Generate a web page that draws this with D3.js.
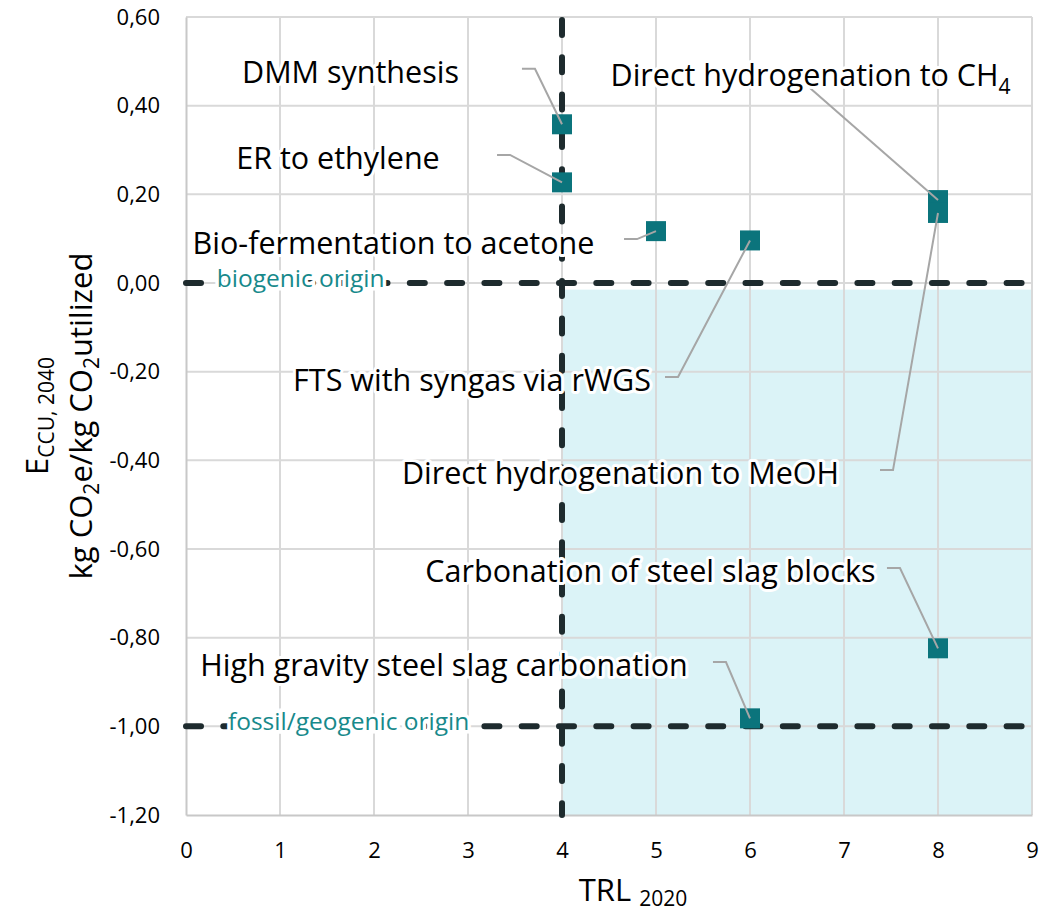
<!DOCTYPE html>
<html>
<head>
<meta charset="utf-8">
<script src="https://cdn.jsdelivr.net/npm/d3@7"></script>
<style>
  body { margin: 0; background: #fff; }
  svg text { font-family: "Open Sans", "Noto Sans", sans-serif; }
</style>
</head>
<body>
<div id="chart"></div>
<script>
// data: processes, TRL 2020, E_CCU 2040
const processes = [
    "DMM synthesis",
    "ER to ethylene",
    "Bio-fermentation to acetone",
    "Direct hydrogenation to CH4",
    "FTS with syngas via rWGS",
    "Direct hydrogenation to MeOH",
    "Carbonation of steel slag blocks",
    "High gravity steel slag carbonation"
];
const trl = [4, 4, 5, 8, 6, 8, 8, 6];
const eccu = [0.358, 0.227, 0.117, 0.187, 0.096, 0.158, -0.824, -0.982];

// annotation layout in data units: label centre, start of leader line
const labelX = [1.750, 1.617, 2.207, 6.644, 3.043, 4.622, 4.941, 2.745];
const labelY = [0.476, 0.282, 0.090, 0.469, -0.219, -0.429, -0.650, -0.862];
const leaderX = [3.574, 3.309, 4.660, 6.638, 5.096, 7.383, 7.457, 5.606];
const leaderY = [0.483, 0.289, 0.099, 0.440, -0.212, -0.422, -0.643, -0.855];

const xTicks = [0, 1, 2, 3, 4, 5, 6, 7, 8, 9];
const yTicks = [0.6, 0.4, 0.2, 0, -0.2, -0.4, -0.6, -0.8, -1.0, -1.2];
const refLinesY = [0, -1.0];
const refLineX = 4;
const originLabels = ["biogenic origin", "fossil/geogenic origin"];
const originLabelX = [1.22, 1.73];

const width = 1053, height = 916;
const margin = {top: 17, right: 21, bottom: 101, left: 186};

const svg = d3.select("#chart")
    .append("svg")
    .attr("width", width)
    .attr("height", height);

const x = d3.scaleLinear().domain([0, 9]).range([margin.left, width - margin.right]);
const y = d3.scaleLinear().domain([-1.2, 0.6]).range([height - margin.bottom, margin.top]);

// shaded region (TRL >= 4, negative emissions)
svg.append("rect")
    .attr("x", x(4))
    .attr("y", y(-0.015))
    .attr("width", x(9) - x(4))
    .attr("height", y(-1.2) - y(-0.015))
    .attr("fill", "#dbf3f7");

// grid
svg.append("g").selectAll("line")
    .data(xTicks.slice(1))
    .join("line")
    .attr("x1", d => x(d)).attr("x2", d => x(d))
    .attr("y1", y(0.6)).attr("y2", y(-1.2))
    .attr("stroke", "#d9d9d9").attr("stroke-width", 2);
svg.append("g").selectAll("line")
    .data(yTicks.slice(0, -1))
    .join("line")
    .attr("x1", x(0)).attr("x2", x(9))
    .attr("y1", d => y(d)).attr("y2", d => y(d))
    .attr("stroke", "#d9d9d9").attr("stroke-width", 2);

// axes
const fmt = d => d3.format(".2f")(d).replace(".", ",").replace("−", "-");
const yAxis = svg.append("g")
    .attr("transform", `translate(${x(0)},0)`)
    .call(d3.axisLeft(y).tickValues(yTicks).tickFormat(fmt).tickSize(0).tickPadding(26));
const xAxis = svg.append("g")
    .attr("transform", `translate(0,${y(-1.2)})`)
    .call(d3.axisBottom(x).tickValues(xTicks).tickFormat(d3.format("d")).tickSize(0).tickPadding(27));
[xAxis, yAxis].forEach(a => {
    a.select(".domain").attr("stroke", "#c8c8c8").attr("stroke-width", 2);
    a.selectAll("text").attr("font-size", 22).attr("fill", "#000")
        .style("font-family", '"Open Sans", sans-serif');
});

// reference dashed lines
const dash = {stroke: "#1e2b2e", width: 6, array: "15 22.3"};
svg.append("g").selectAll("line")
    .data(refLinesY)
    .join("line")
    .attr("x1", x(0)).attr("x2", x(9))
    .attr("y1", d => y(d)).attr("y2", d => y(d))
    .attr("stroke", dash.stroke).attr("stroke-width", dash.width)
    .attr("stroke-dasharray", dash.array).attr("stroke-linecap", "round");
svg.append("line")
    .attr("x1", x(refLineX)).attr("x2", x(refLineX))
    .attr("y1", y(0.6) + 3).attr("y2", y(-1.2))
    .attr("stroke", dash.stroke).attr("stroke-width", dash.width)
    .attr("stroke-dasharray", dash.array).attr("stroke-linecap", "round");

// origin labels
svg.append("g").selectAll("text")
    .data(originLabels)
    .join("text")
    .attr("x", (d, i) => x(originLabelX[i]))
    .attr("y", (d, i) => y(refLinesY[i]) + 4)
    .attr("text-anchor", "middle")
    .attr("font-size", 24.5)
    .attr("fill", "#17898b")
    .attr("stroke", "#fff").attr("stroke-width", 7)
    .attr("paint-order", "stroke")
    .text(d => d);

// markers
const pts = processes.map((p, i) => ({
    name: p, x: trl[i], y: eccu[i],
    lx: labelX[i], ly: labelY[i], sx: leaderX[i], sy: leaderY[i]
}));
svg.append("g").selectAll("rect")
    .data(pts)
    .join("rect")
    .attr("x", d => x(d.x) - 10)
    .attr("y", d => y(d.y) - 10)
    .attr("width", 20).attr("height", 20)
    .attr("fill", "#0b747c");

// leader lines
svg.append("g").selectAll("path")
    .data(pts)
    .join("path")
    .attr("d", d => {
        const p0 = [x(d.sx), y(d.sy)];
        const pts2 = d.name.endsWith("CH4")
            ? [p0, [x(d.x), y(d.y)]]
            : [p0, [p0[0] + 13, p0[1]], [x(d.x), y(d.y)]];
        return d3.line()(pts2);
    })
    .attr("fill", "none")
    .attr("stroke", "#a6a6a6")
    .attr("stroke-width", 2);

// annotation labels
const labels = svg.append("g").selectAll("text")
    .data(pts)
    .join("text")
    .attr("x", d => x(d.lx))
    .attr("y", d => y(d.ly) + 11)
    .attr("text-anchor", "middle")
    .attr("font-size", 30.5)
    .attr("fill", "#000")
    .attr("stroke", "#fff").attr("stroke-width", 6)
    .attr("stroke-linejoin", "round")
    .attr("paint-order", "stroke");
labels.each(function(d) {
    const t = d3.select(this);
    if (d.name.endsWith("CH4")) {
        t.append("tspan").text("Direct hydrogenation to CH");
        t.append("tspan").attr("font-size", 21).attr("dy", 8).text("4");
    } else {
        t.text(d.name);
    }
});

// axis titles
const yt = svg.append("text")
    .attr("transform", `translate(48,${y(-0.3)}) rotate(-90)`)
    .attr("text-anchor", "middle")
    .attr("font-size", 31)
    .attr("fill", "#000");
yt.append("tspan").text("E");
yt.append("tspan").attr("font-size", 21).attr("dy", 6).text("CCU, 2040");
const yt2 = svg.append("text")
    .attr("transform", `translate(92,${y(-0.3)}) rotate(-90)`)
    .attr("text-anchor", "middle")
    .attr("font-size", 31)
    .attr("fill", "#000");
yt2.append("tspan").text("kg CO");
yt2.append("tspan").attr("font-size", 21).attr("dy", 7).text("2");
yt2.append("tspan").attr("dy", -7).text("e/kg CO");
yt2.append("tspan").attr("font-size", 21).attr("dy", 7).text("2");
yt2.append("tspan").attr("dy", -7).text("utilized");

const xt = svg.append("text")
    .attr("x", 633).attr("y", 901)
    .attr("text-anchor", "middle")
    .attr("font-size", 31)
    .attr("fill", "#000");
xt.append("tspan").text("TRL ");
xt.append("tspan").attr("font-size", 21).attr("dy", 5).text("2020");
</script>
</body>
</html>
